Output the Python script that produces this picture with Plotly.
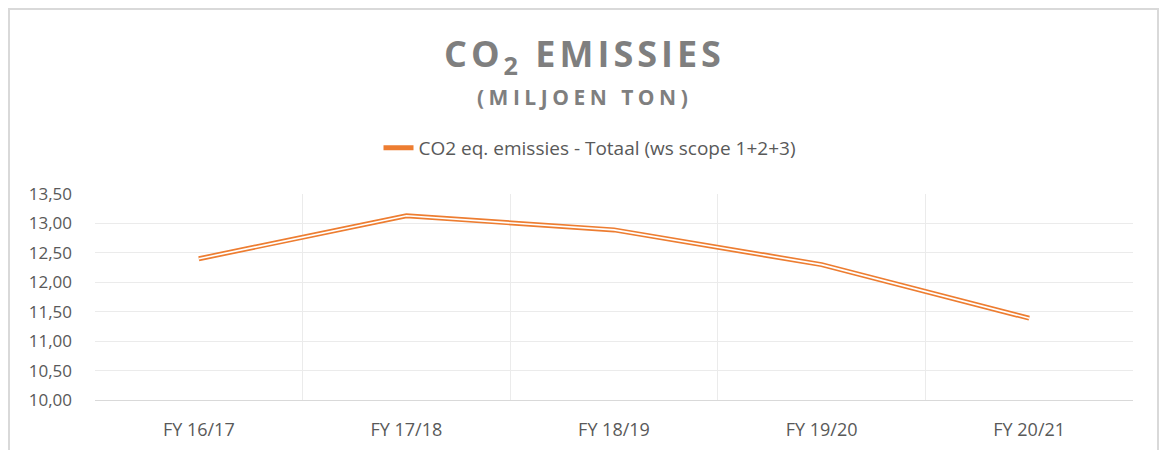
import plotly.graph_objects as go

categories = ["FY 16/17", "FY 17/18", "FY 18/19", "FY 19/20", "FY 20/21"]
emissions = [12.40, 13.13, 12.89, 12.30, 11.39]
series_name = "CO2 eq. emissies - Totaal (ws scope 1+2+3)"
y_ticks = [10.0, 10.5, 11.0, 11.5, 12.0, 12.5, 13.0, 13.5]

W, H = 1159, 450
L, R, T, B = 95, 26, 194, 50
pw, ph = W - L - R, H - T - B

def px_x(p):
    return (p - L) / pw

def px_y(p):
    return (H - B - p) / ph

ORANGE = "#ED7D31"
GRAY = "#595959"
FONT = "Open Sans"

fig = go.Figure()
fig.add_trace(go.Scatter(
    x=categories, y=emissions, mode="lines", name=series_name,
    line=dict(color=ORANGE, width=5), showlegend=True,
    hoverinfo="skip",
))
fig.add_trace(go.Scatter(
    x=categories, y=emissions, mode="lines", name=series_name,
    line=dict(color="white", width=1.6), showlegend=False,
    hoverinfo="skip",
))

fig.update_layout(
    width=W, height=H,
    margin=dict(l=L, r=R, t=T, b=B),
    paper_bgcolor="white", plot_bgcolor="white",
    separators=",.",
    font=dict(family=FONT, color=GRAY, size=17),
    showlegend=True,
    legend=dict(
        orientation="h", x=px_x(590), xanchor="center",
        y=px_y(148), yanchor="middle",
        font=dict(family=FONT, size=19, color=GRAY),
        bgcolor="rgba(0,0,0,0)",
    ),
    xaxis=dict(
        type="category", tickson="boundaries", showgrid=True,
        range=[-0.5, len(categories) - 0.5], automargin=False,
        gridcolor="#EBEBEB", gridwidth=1.3,
        showline=True, linecolor="#D9D9D9", linewidth=1.3,
        ticks="", tickfont=dict(size=18, color=GRAY),
        ticklabelstandoff=13, zeroline=False,
    ),
    yaxis=dict(
        range=[10, 13.5], tickvals=y_ticks, tickformat=".2f", automargin=False,
        showgrid=True, gridcolor="#EBEBEB", gridwidth=1.3,
        showline=False, zeroline=False,
        ticks="", tickfont=dict(size=17, color=GRAY),
        ticklabelstandoff=22,
    ),
    annotations=[
        dict(text="<span style='letter-spacing:4px'><b>CO<sub>2</sub> EMISSIES</b></span>",
             xref="paper", yref="paper",
             x=px_x(584), y=px_y(55), xanchor="center", yanchor="middle",
             showarrow=False, font=dict(family=FONT, size=36, color="#7F7F7F")),
        dict(text="<span style='letter-spacing:4.5px'><b>(MILJOEN TON)</b></span>",
             xref="paper", yref="paper",
             x=px_x(584), y=px_y(97), xanchor="center", yanchor="middle",
             showarrow=False, font=dict(family=FONT, size=21, color="#7F7F7F")),
    ],
    shapes=[
        dict(type="rect", xref="paper", yref="paper",
             x0=px_x(9), x1=px_x(1158), y0=px_y(9), y1=px_y(470),
             line=dict(color="#D9D9D9", width=2), layer="below"),
    ],
)

fig.write_html("out.html", config={"displayModeBar": False},
               post_script="document.body.style.margin='0';")
